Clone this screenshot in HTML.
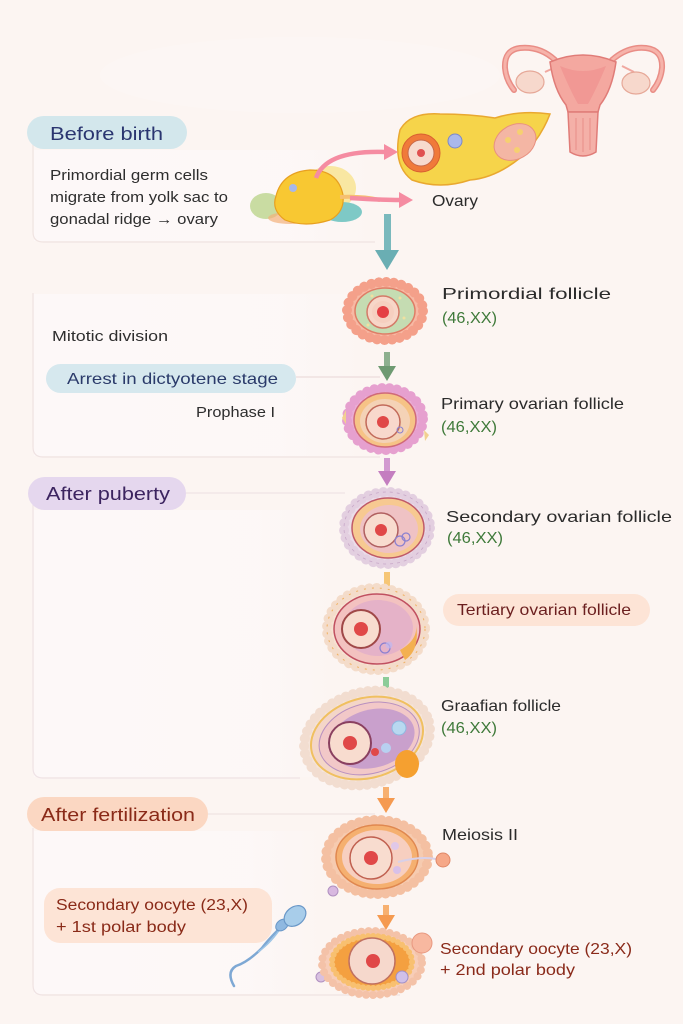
<!DOCTYPE html>
<html><head><meta charset="utf-8"><style>
html,body{margin:0;padding:0;background:#fcf5f2;}
svg{display:block;}
text{font-family:"Liberation Sans",sans-serif;}
</style></head><body>
<svg width="683" height="1024" viewBox="0 0 683 1024" xmlns="http://www.w3.org/2000/svg">
<defs>
<linearGradient id="pf" x1="0" y1="0" x2="1" y2="0">
<stop offset="0" stop-color="#fdf8f8" stop-opacity="1"/>
<stop offset="0.75" stop-color="#fdf8f8" stop-opacity="0.8"/>
<stop offset="1" stop-color="#fdf8f8" stop-opacity="0"/>
</linearGradient>
<linearGradient id="ln" x1="0" y1="0" x2="1" y2="0">
<stop offset="0" stop-color="#eddfdf" stop-opacity="1"/>
<stop offset="0.8" stop-color="#eddfdf" stop-opacity="0.8"/>
<stop offset="1" stop-color="#eddfdf" stop-opacity="0"/>
</linearGradient>
</defs>
<rect width="683" height="1024" fill="#fcf5f2"/>
<ellipse cx="300" cy="75" rx="200" ry="38" fill="#fcf6f4"/>

<!-- Panels -->
<rect x="34" y="150" width="340" height="91" fill="url(#pf)"/>
<rect x="34" y="294" width="330" height="162" fill="url(#pf)"/>
<rect x="34" y="510" width="300" height="267" fill="url(#pf)"/>
<rect x="34" y="831" width="290" height="163" fill="url(#pf)"/>
<path d="M187 133 H400" stroke="url(#ln)" stroke-width="1.2"/>
<path d="M33 140 V232 Q33 242 43 242 H375" fill="none" stroke="#f0e4e2" stroke-width="1.2"/>
<path d="M33 293 V447 Q33 457 43 457 H380" fill="none" stroke="#efe3e3" stroke-width="1.2"/>
<path d="M296 377 H380" stroke="#ecdcdc" stroke-width="1.2"/>
<path d="M186 493 H345" stroke="#efe3e6" stroke-width="1.2"/>
<path d="M33 505 V768 Q33 778 43 778 H300" fill="none" stroke="#efe3e6" stroke-width="1.2"/>
<path d="M208 814 H375" stroke="#efe3e3" stroke-width="1.2"/>
<path d="M33 828 V985 Q33 995 43 995 H400" fill="none" stroke="#efe3e3" stroke-width="1.2"/>

<!-- Section pills -->
<rect x="27" y="116" width="160" height="33" rx="16.5" fill="#d3e7ec"/>
<text x="50" y="140" font-size="18" fill="#2a3570" textLength="113" lengthAdjust="spacingAndGlyphs">Before birth</text>
<rect x="46" y="364" width="250" height="29" rx="14.5" fill="#d6e8ee"/>
<text x="67" y="384" font-size="16" fill="#2a3a6a" textLength="211" lengthAdjust="spacingAndGlyphs">Arrest in dictyotene stage</text>
<rect x="28" y="477" width="158" height="33" rx="16.5" fill="#e5d7ee"/>
<text x="46" y="500" font-size="18" fill="#3c2460" textLength="124" lengthAdjust="spacingAndGlyphs">After puberty</text>
<rect x="27" y="797" width="181" height="34" rx="17" fill="#fbd7c2"/>
<text x="41" y="821" font-size="18" fill="#8a2a18" textLength="154" lengthAdjust="spacingAndGlyphs">After fertilization</text>
<rect x="443" y="594" width="207" height="32" rx="16" fill="#fde4d6"/>
<text x="457" y="615" font-size="16" fill="#6b1f1f" textLength="174" lengthAdjust="spacingAndGlyphs">Tertiary ovarian follicle</text>
<rect x="44" y="888" width="228" height="55" rx="16" fill="#fde4d6"/>
<text x="56" y="910" font-size="15.5" fill="#8a2a18" textLength="192" lengthAdjust="spacingAndGlyphs">Secondary oocyte (23,X)</text>
<text x="56" y="932" font-size="15.5" fill="#8a2a18" textLength="130" lengthAdjust="spacingAndGlyphs">+ 1st polar body</text>

<!-- Left text -->
<g font-size="15" fill="#2e2e2e">
<text x="50" y="180" textLength="158" lengthAdjust="spacingAndGlyphs">Primordial germ cells</text>
<text x="50" y="202" textLength="178" lengthAdjust="spacingAndGlyphs">migrate from yolk sac to</text>
<text x="50" y="224" textLength="168" lengthAdjust="spacingAndGlyphs">gonadal ridge → ovary</text>
<text x="52" y="341" textLength="116" lengthAdjust="spacingAndGlyphs">Mitotic division</text>
<text x="196" y="417" textLength="79" lengthAdjust="spacingAndGlyphs">Prophase I</text>
</g>

<!-- Right labels -->
<g font-size="16" fill="#2b2b2b">
<text x="432" y="206" textLength="46" lengthAdjust="spacingAndGlyphs">Ovary</text>
<text x="442" y="299" textLength="169" lengthAdjust="spacingAndGlyphs">Primordial follicle</text>
<text x="441" y="409" textLength="183" lengthAdjust="spacingAndGlyphs">Primary ovarian follicle</text>
<text x="446" y="522" textLength="226" lengthAdjust="spacingAndGlyphs">Secondary ovarian follicle</text>
<text x="441" y="711" textLength="120" lengthAdjust="spacingAndGlyphs">Graafian follicle</text>
<text x="442" y="840" textLength="76" lengthAdjust="spacingAndGlyphs">Meiosis II</text>
</g>
<g font-size="16" fill="#3f7a3a">
<text x="442" y="323" textLength="55" lengthAdjust="spacingAndGlyphs">(46,XX)</text>
<text x="441" y="432" textLength="56" lengthAdjust="spacingAndGlyphs">(46,XX)</text>
<text x="447" y="543" textLength="56" lengthAdjust="spacingAndGlyphs">(46,XX)</text>
<text x="441" y="733" textLength="56" lengthAdjust="spacingAndGlyphs">(46,XX)</text>
</g>
<g font-size="16" fill="#8a2a1a">
<text x="440" y="954" textLength="192" lengthAdjust="spacingAndGlyphs">Secondary oocyte (23,X)</text>
<text x="440" y="975" textLength="135" lengthAdjust="spacingAndGlyphs">+ 2nd polar body</text>
</g>

<!-- Uterus -->
<g>
<path d="M555 60 Q540 46 520 48 Q504 50 505 68 Q506 80 514 90" fill="none" stroke="#e98d86" stroke-width="6" stroke-linecap="round"/>
<path d="M555 60 Q540 46 520 48 Q504 50 505 68 Q506 80 514 90" fill="none" stroke="#f6b3aa" stroke-width="3" stroke-linecap="round"/>
<path d="M612 60 Q628 46 646 48 Q663 50 662 68 Q661 80 653 90" fill="none" stroke="#e98d86" stroke-width="6" stroke-linecap="round"/>
<path d="M612 60 Q628 46 646 48 Q663 50 662 68 Q661 80 653 90" fill="none" stroke="#f6b3aa" stroke-width="3" stroke-linecap="round"/>
<path d="M545 72 L558 66 M622 66 L634 72" stroke="#f0a8a0" stroke-width="2"/>
<ellipse cx="530" cy="82" rx="14" ry="11" fill="#f7d8cc" stroke="#e6a898" stroke-width="1.2"/>
<ellipse cx="636" cy="83" rx="14" ry="11" fill="#f7d8cc" stroke="#e6a898" stroke-width="1.2"/>
<path d="M550 62 Q583 48 616 62 Q612 90 600 105 L598 112 L568 112 L566 105 Q554 90 550 62 Z" fill="#f4a8a0" stroke="#e07c78" stroke-width="1.5"/>
<path d="M560 66 Q583 76 606 66 Q596 90 588 104 L578 104 Q570 90 560 66 Z" fill="#ee8e8c" opacity="0.6"/>
<path d="M568 112 L570 152 Q583 160 596 152 L598 112 Z" fill="#f4b0a8" stroke="#e07c78" stroke-width="1.5"/>
<path d="M576 118 V150 M583 118 V152 M590 118 V150" stroke="#e88e88" stroke-width="1"/>
</g>

<!-- Ovary (yellow) -->
<g>
<path d="M400 130 Q410 112 440 114 Q470 114 495 118 Q520 110 550 114 Q540 140 520 158 Q495 178 470 180 Q440 190 412 180 Q392 165 400 130 Z" fill="#f6d44a" stroke="#e9a830" stroke-width="1.5"/>
<ellipse cx="515" cy="142" rx="22" ry="17" transform="rotate(-30 515 142)" fill="#f4b6a4" stroke="#e89080" stroke-width="1"/>
<circle cx="508" cy="140" r="3" fill="#f6d070"/><circle cx="520" cy="132" r="3" fill="#f6d070"/><circle cx="517" cy="150" r="3" fill="#f6d070"/>
<circle cx="421" cy="153" r="19" fill="#f07a3a" stroke="#d86030" stroke-width="1"/>
<circle cx="421" cy="153" r="13" fill="#f7dace" stroke="#c86848" stroke-width="1"/>
<circle cx="421" cy="153" r="4" fill="#e05050"/>
<circle cx="455" cy="141" r="7" fill="#aab8ea" stroke="#7a88c8" stroke-width="1"/>
</g>

<!-- Yolk sac -->
<g>
<ellipse cx="330" cy="188" rx="26" ry="22" fill="#f9e7a2"/>
<ellipse cx="342" cy="212" rx="20" ry="10" fill="#7ec9c6"/>
<ellipse cx="266" cy="206" rx="16" ry="13" fill="#c9dca2"/>
<ellipse cx="290" cy="218" rx="22" ry="6" fill="#f2b07a" opacity="0.7"/>
<path d="M276 196 Q282 172 310 170 Q338 170 343 195 Q345 212 330 220 Q305 228 285 220 Q271 210 276 196 Z" fill="#f8c832" stroke="#e8a020" stroke-width="1.2"/>
<path d="M340 197 Q362 196 380 200" fill="none" stroke="#f6c070" stroke-width="4"/>
<circle cx="293" cy="188" r="4" fill="#a8b8e8"/>
</g>
<path d="M316 178 Q326 150 385 152" fill="none" stroke="#f58ca2" stroke-width="4.5"/>
<path d="M384 144 L398 152 L384 160 Z" fill="#f58ca2"/>
<path d="M350 198 Q380 200 400 200" fill="none" stroke="#f58ca2" stroke-width="4.5"/>
<path d="M399 192 L413 200 L399 208 Z" fill="#f58ca2"/>

<!-- Arrows -->
<rect x="384" y="214" width="7" height="38" fill="#7ab9bd"/>
<path d="M375 250 L399 250 L387 270 Z" fill="#6aaeb3"/>
<rect x="384" y="352" width="6" height="16" fill="#8db08f"/>
<path d="M378 366 L396 366 L387 381 Z" fill="#6e9a72"/>
<rect x="384" y="458" width="6" height="15" fill="#d29ad0"/>
<path d="M378 471 L396 471 L387 486 Z" fill="#c47ec0"/>
<rect x="384" y="572" width="6" height="17" fill="#f6c676"/>
<rect x="383" y="677" width="6" height="19" fill="#8ccc98"/>
<path d="M377 694 L395 694 L386 710 Z" fill="#70bc80"/>
<rect x="383" y="787" width="6" height="13" fill="#f7b070"/>
<path d="M377 798 L395 798 L386 813 Z" fill="#f59a50"/>
<rect x="383" y="905" width="6" height="12" fill="#f7b070"/>
<path d="M377 915 L395 915 L386 930 Z" fill="#f59a50"/>

<!-- Primordial follicle -->
<g>
<ellipse cx="385" cy="311" rx="38" ry="29" fill="#f7b9a4"/>
<ellipse cx="385" cy="311" rx="38" ry="29" fill="none" stroke="#f4a08a" stroke-width="10" stroke-dasharray="0.1 7.5" stroke-linecap="round"/>
<ellipse cx="385" cy="311" rx="30" ry="23" fill="#c5dcb2" stroke="#df7d66" stroke-width="1.5"/>
<circle cx="372" cy="296" r="1.5" fill="#f0e0a0"/><circle cx="400" cy="298" r="1.5" fill="#f0e0a0"/><circle cx="404" cy="318" r="1.5" fill="#f0e0a0"/><circle cx="368" cy="325" r="1.5" fill="#f0e0a0"/>
<circle cx="383" cy="312" r="16" fill="#f7d6c8" stroke="#d47a68" stroke-width="1.5"/>
<circle cx="383" cy="312" r="11" fill="#f6cfc0"/>
<circle cx="383" cy="312" r="6" fill="#e43f44"/>
</g>

<!-- Primary follicle -->
<g>
<ellipse cx="385" cy="419" rx="38" ry="31" fill="#eaaed6"/>
<ellipse cx="385" cy="419" rx="38" ry="31" fill="none" stroke="#e6a0cf" stroke-width="10" stroke-dasharray="0.1 7.5" stroke-linecap="round"/>
<path d="M346 410 l-4 8 l4 6 Z M424 430 l5 5 l-4 6 Z" fill="#f2d090"/>
<ellipse cx="385" cy="420" rx="31" ry="27" fill="#f6c386" stroke="#d06a78" stroke-width="1.5"/>
<ellipse cx="385" cy="421" rx="25" ry="22" fill="#f4d2b6"/>
<circle cx="383" cy="422" r="17" fill="#f8d8cc" stroke="#c26a5a" stroke-width="1.5"/>
<circle cx="383" cy="422" r="6" fill="#e04848"/>
<circle cx="400" cy="430" r="3" fill="none" stroke="#8a80d0" stroke-width="1"/>
</g>

<!-- Secondary follicle -->
<g>
<ellipse cx="387" cy="528" rx="43" ry="36" fill="#ebdde9"/>
<ellipse cx="387" cy="528" rx="43" ry="36" fill="none" stroke="#e3cfe0" stroke-width="10" stroke-dasharray="0.1 7.5" stroke-linecap="round"/>
<ellipse cx="387" cy="528" rx="43" ry="36" fill="none" stroke="#c8a8c8" stroke-width="0.8" stroke-dasharray="3 4"/>
<ellipse cx="388" cy="528" rx="36" ry="30" fill="#f7c991" stroke="#c05a68" stroke-width="1.5"/>
<ellipse cx="389" cy="529" rx="29" ry="24" fill="#efc2c4"/>
<circle cx="381" cy="530" r="17" fill="#f8dccf" stroke="#b06060" stroke-width="1.5"/>
<circle cx="381" cy="530" r="6" fill="#e04848"/>
<circle cx="400" cy="541" r="5" fill="none" stroke="#8a80d0" stroke-width="1.2"/>
<circle cx="406" cy="537" r="4" fill="none" stroke="#8a80d0" stroke-width="1.2"/>
</g>

<!-- Tertiary follicle -->
<g>
<ellipse cx="376" cy="629" rx="49" ry="41" fill="#f7e2d3"/>
<ellipse cx="376" cy="629" rx="49" ry="41" fill="none" stroke="#f4dcca" stroke-width="10" stroke-dasharray="0.1 7.5" stroke-linecap="round"/>
<ellipse cx="376" cy="629" rx="49" ry="41" fill="none" stroke="#f0b060" stroke-width="1" stroke-dasharray="2 6"/>
<ellipse cx="377" cy="629" rx="43" ry="35" fill="#f3c2c0" stroke="#c05060" stroke-width="1.5"/>
<ellipse cx="378" cy="628" rx="35" ry="28" fill="#e5b2c8"/>
<path d="M400 650 Q418 640 416 625 Q420 650 405 660 Z" fill="#f3b050"/>
<circle cx="361" cy="629" r="19" fill="#f8dccf" stroke="#a04848" stroke-width="2"/>
<circle cx="361" cy="629" r="7" fill="#e04848"/>
<circle cx="385" cy="648" r="5" fill="none" stroke="#8a80d0" stroke-width="1.2"/>
<circle cx="389" cy="645" r="3.5" fill="#c0b8f0" opacity="0.7"/>
</g>

<!-- Graafian follicle -->
<g transform="rotate(-15 367 738)">
<ellipse cx="367" cy="738" rx="64" ry="46" fill="#f5e4da"/>
<ellipse cx="367" cy="738" rx="64" ry="46" fill="none" stroke="#f2ddd0" stroke-width="10" stroke-dasharray="0.1 7.5" stroke-linecap="round"/>
<ellipse cx="367" cy="738" rx="57" ry="40" fill="#f4d6c8" stroke="#f0c060" stroke-width="2"/>
<ellipse cx="369" cy="739" rx="51" ry="35" fill="#f2c8c8" stroke="#b890c0" stroke-width="1"/>
<ellipse cx="372" cy="740" rx="43" ry="29" fill="#c9a0cc"/>
</g>
<ellipse cx="407" cy="764" rx="12" ry="14" fill="#f5a030"/>
<circle cx="350" cy="743" r="21" fill="#f8dccf" stroke="#8a4060" stroke-width="2"/>
<circle cx="350" cy="743" r="7" fill="#e04848"/>
<circle cx="399" cy="728" r="7" fill="#b8d8f0" stroke="#90b8e0" stroke-width="1"/>
<circle cx="375" cy="752" r="4" fill="#e04848"/>
<circle cx="386" cy="748" r="5" fill="#b8d0f0"/>

<!-- Meiosis II follicle -->
<g>
<circle cx="333" cy="891" r="5" fill="#d8b8e0" stroke="#b090c0" stroke-width="1"/>
<ellipse cx="377" cy="857" rx="51" ry="37" fill="#f6cbb0"/>
<ellipse cx="377" cy="857" rx="51" ry="37" fill="none" stroke="#f4c0a2" stroke-width="10" stroke-dasharray="0.1 7.5" stroke-linecap="round"/>
<ellipse cx="377" cy="857" rx="41" ry="32" fill="#f5b070" stroke="#e08850" stroke-width="1.5"/>
<ellipse cx="377" cy="857" rx="35" ry="27" fill="#f7cfc0"/>
<circle cx="371" cy="858" r="21" fill="#f8dccf" stroke="#c06050" stroke-width="1.5"/>
<circle cx="371" cy="858" r="7" fill="#e04848"/>
<circle cx="395" cy="846" r="4" fill="#e0c8e8"/>
<circle cx="397" cy="870" r="4" fill="#d8c0e8"/>
<path d="M398 862 Q420 856 436 859" fill="none" stroke="#d8d0e8" stroke-width="2"/>
<circle cx="443" cy="860" r="7" fill="#f6a888" stroke="#e08868" stroke-width="1"/>
</g>

<!-- Final oocyte -->
<g>
<circle cx="321" cy="977" r="5" fill="#d8c0e0" stroke="#b090c0" stroke-width="1"/>
<ellipse cx="372" cy="963" rx="50" ry="32" fill="#f7cdb8"/>
<ellipse cx="372" cy="963" rx="50" ry="32" fill="none" stroke="#f4c2a8" stroke-width="8" stroke-dasharray="0.1 7" stroke-linecap="round"/>
<ellipse cx="372" cy="962" rx="40" ry="26" fill="#f4a040"/>
<ellipse cx="372" cy="962" rx="40" ry="26" fill="none" stroke="#f8c070" stroke-width="6" stroke-dasharray="0.1 5" stroke-linecap="round"/>
<circle cx="372" cy="961" r="23" fill="#f6d8cc" stroke="#c07060" stroke-width="1.5"/>
<circle cx="373" cy="961" r="7" fill="#e04848"/>
<circle cx="402" cy="977" r="6" fill="#d0c0e8" stroke="#a090c8" stroke-width="1"/>
<circle cx="422" cy="943" r="10" fill="#f8b8a0" stroke="#e89880" stroke-width="1"/>
</g>

<!-- Sperm -->
<g>
<path d="M280 928 Q268 940 262 948 Q248 962 236 966 Q226 972 234 986" fill="none" stroke="#7ea8d4" stroke-width="2.5" stroke-linecap="round"/>
<path d="M282 926 Q272 942 258 952" fill="none" stroke="#9cc4e6" stroke-width="1.5"/>
<ellipse cx="282" cy="925" rx="7" ry="5" transform="rotate(-40 282 925)" fill="#8fb8e0" stroke="#6a98c8" stroke-width="1"/>
<ellipse cx="295" cy="916" rx="12" ry="9" transform="rotate(-40 295 916)" fill="#a8cdea" stroke="#6a98c8" stroke-width="1.2"/>
</g>
</svg>
</body></html>
